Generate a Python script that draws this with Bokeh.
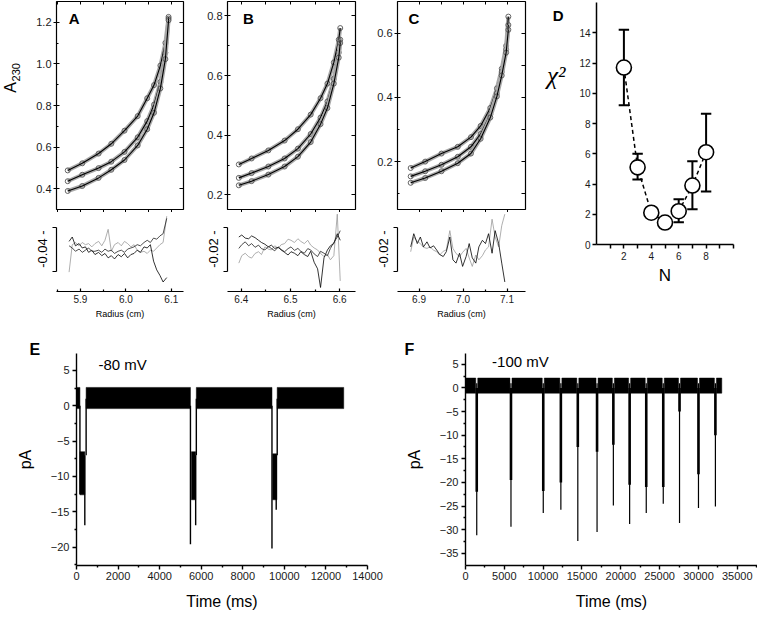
import math
from bokeh.plotting import figure
from bokeh.layouts import row, column
from bokeh.models import Range1d, FixedTicker, LinearAxis, Label, Title, PrintfTickFormatter
from bokeh.embed import file_html
from bokeh.resources import INLINE

# ---------------- data ----------------
# Panel A: radius (cm) and A230 for three scans
A_radius = [5.872, 5.904, 5.940, 5.968, 5.997, 6.026, 6.047, 6.062, 6.076, 6.087, 6.094]
A_abs_1 = [0.488, 0.522, 0.569, 0.616, 0.679, 0.749, 0.835, 0.898, 0.992, 1.101, 1.226]
A_abs_2 = [0.436, 0.467, 0.499, 0.530, 0.577, 0.647, 0.725, 0.804, 0.913, 1.054, 1.218]
A_abs_3 = [0.389, 0.413, 0.452, 0.491, 0.538, 0.608, 0.686, 0.765, 0.882, 1.023, 1.210]
A_res_radius = [5.875, 5.882, 5.889, 5.897, 5.904, 5.911, 5.918, 5.925, 5.932, 5.940, 5.947,
                5.954, 5.961, 5.968, 5.975, 5.983, 5.990, 5.997, 6.004, 6.011, 6.018, 6.025,
                6.032, 6.040, 6.047, 6.054, 6.061, 6.068, 6.075, 6.082, 6.090]
A_res_1 = [0.007, 0.011, 0.003, 0.005, 0.001, 0.002, -0.003, -0.001, -0.005, -0.003, -0.006,
           -0.004, -0.008, -0.006, -0.009, -0.005, -0.007, -0.004, -0.008, -0.005, -0.004, -0.001,
           -0.003, 0.002, 0.001, 0.004, -0.011, -0.019, -0.024, -0.030, -0.026]
A_res_2 = [0.003, 0.001, -0.002, 0.000, -0.003, -0.001, 0.001, -0.002, -0.002, -0.001, -0.003,
           0.000, -0.002, -0.001, -0.004, -0.002, -0.001, -0.003, 0.000, 0.001, 0.002, 0.004,
           0.003, 0.006, 0.008, 0.006, 0.010, 0.009, 0.012, 0.014, 0.028]
A_res_3 = [-0.021, 0.004, 0.006, 0.003, 0.006, 0.004, 0.005, 0.002, 0.005, 0.007, 0.003,
           0.008, 0.018, -0.002, 0.004, 0.006, 0.003, 0.007, 0.005, 0.002, 0.004, -0.001,
           -0.003, -0.002, -0.004, -0.001, -0.002, 0.001, 0.004, 0.006, 0.030]

# Panel B
B_radius = [6.395, 6.421, 6.455, 6.488, 6.515, 6.541, 6.561, 6.575, 6.588, 6.598, 6.601]
B_abs_1 = [0.302, 0.322, 0.349, 0.382, 0.420, 0.469, 0.524, 0.573, 0.644, 0.720, 0.759]
B_abs_2 = [0.257, 0.273, 0.295, 0.322, 0.355, 0.404, 0.459, 0.513, 0.589, 0.677, 0.720]
B_abs_3 = [0.232, 0.246, 0.268, 0.295, 0.328, 0.377, 0.437, 0.491, 0.573, 0.660, 0.709]
B_res_radius = [6.395, 6.401, 6.408, 6.415, 6.421, 6.428, 6.435, 6.441, 6.448, 6.455, 6.461,
                6.468, 6.475, 6.481, 6.488, 6.495, 6.501, 6.508, 6.515, 6.521, 6.528, 6.535,
                6.541, 6.548, 6.555, 6.561, 6.568, 6.575, 6.581, 6.588, 6.595, 6.601]
B_res_1 = [0.0055, 0.0064, 0.0050, 0.0047, 0.0060, 0.0052, 0.0040, 0.0030, 0.0022, 0.0010, 0.0018,
           0.0003, 0.0008, -0.0004, -0.0015, -0.0027, -0.0012, -0.0019, -0.0030, -0.0012, -0.0025,
           -0.0034, -0.0010, -0.0060, -0.0090, -0.0175, -0.0040, -0.0004, 0.0015, 0.0025, 0.0070, 0.0040]
B_res_2 = [0.0003, 0.0020, 0.0033, 0.0015, 0.0025, 0.0008, 0.0018, 0.0002, -0.0004, 0.0012, 0.0003,
           -0.0008, 0.0010, -0.0002, -0.0012, 0.0002, 0.0010, -0.0006, 0.0003, -0.0010, -0.0019,
           0.0002, -0.0004, -0.0022, -0.0034, -0.0010, -0.0019, -0.0030, 0.0003, 0.0030, 0.0055, 0.0084]
B_res_3 = [-0.0064, -0.0030, -0.0019, -0.0035, -0.0041, -0.0020, -0.0012, -0.0025, 0.0010, 0.0000,
           -0.0004, 0.0015, 0.0003, 0.0020, 0.0025, 0.0045, 0.0040, 0.0030, 0.0047, 0.0035, 0.0025,
           0.0040, 0.0018, 0.0005, -0.0004, -0.0020, -0.0034, -0.0025, -0.0049, -0.0030, 0.0159, -0.0145]

# Panel C
C_radius = [6.881, 6.914, 6.951, 6.988, 7.018, 7.040, 7.062, 7.077, 7.088, 7.098, 7.103]
C_abs_1 = [0.180, 0.200, 0.225, 0.246, 0.276, 0.311, 0.367, 0.428, 0.489, 0.560, 0.651]
C_abs_2 = [0.154, 0.170, 0.190, 0.215, 0.246, 0.286, 0.347, 0.413, 0.479, 0.549, 0.625]
C_abs_3 = [0.134, 0.149, 0.170, 0.195, 0.225, 0.271, 0.337, 0.403, 0.468, 0.539, 0.610]
C_res_radius = [6.881, 6.888, 6.896, 6.903, 6.910, 6.918, 6.925, 6.933, 6.940, 6.947, 6.955,
                6.962, 6.970, 6.977, 6.984, 6.992, 6.999, 7.007, 7.014, 7.021, 7.029, 7.036,
                7.044, 7.051, 7.058, 7.066, 7.073, 7.081, 7.088, 7.095]
C_res_1 = [0.0010, 0.0070, 0.0025, 0.0055, 0.0010, 0.0033, 0.0005, 0.0015, -0.0004, -0.0025,
           -0.0034, -0.0012, 0.0055, -0.0049, -0.0064, -0.0019, -0.0079, -0.0034, 0.0025, -0.0040,
           -0.0064, 0.0010, 0.0040, 0.0025, 0.0070, -0.0019, 0.0084, 0.0025, -0.0064, -0.0150]
C_res_2 = [-0.0012, 0.0055, 0.0035, 0.0025, 0.0008, 0.0003, 0.0010, -0.0005, -0.0012, -0.0027,
           -0.0010, -0.0004, 0.0084, 0.0003, -0.0020, -0.0034, -0.0015, 0.0003, -0.0040, -0.0079,
           -0.0027, -0.0049, -0.0030, -0.0004, 0.0010, 0.0136, 0.0055, 0.0010, 0.0107, 0.0159]

# Panel D: chi-square vs N
D_N = [2, 3, 4, 5, 6, 7, 8]
D_chi2 = [11.7, 5.1, 2.1, 1.45, 2.2, 3.9, 6.1]
D_low = [9.2, 4.3, 1.9, 1.3, 1.47, 2.33, 3.5]
D_high = [14.2, 6.0, 2.3, 1.6, 3.0, 5.5, 8.65]

# Panel E: -80 mV trace (ms, pA)
E_base_start = [0, 463, 5765, 9656]
E_base_end = [165, 5482, 9404, 12856]
E_noise_band = [-0.4, 2.6]
E_drop_t = [165, 400, 463, 5482, 5733, 5765, 9404, 9608, 9656]
E_drop_top = [0, -7, 1, 0, -7, 1, 0, -7, 1]
E_drop_bottom = [-12.5, -16.9, -7, -19.6, -16.9, -7, -20.2, -14.7, -7]
E_burst_t0 = [165, 5529, 9435]
E_burst_t1 = [400, 5733, 9640]
E_burst_low = [-12.6, -13.3, -13.3]
E_burst_high = [-6.5, -6.5, -6.8]

# Panel F: -100 mV trace (ms, pA)
F_spike_t = [1448, 5856, 10013, 12280, 14462, 16940, 19040, 21135, 23275, 25465, 27560, 30000, 32180]
F_spike_min = [-31.2, -29.4, -26.5, -25.8, -32.4, -30.5, -24.9, -28.8, -26.5, -24.5, -28.6, -25.4, -25.1]
F_spike_knee = [-22, -19.5, -21.8, -20, -12.5, -13.5, -12, -20.5, -21, -21, -5, -18.3, -10]
F_trace_end = 33000
F_noise_band = [-1.1, 2.1]

# tick values
A_yticks, A_yminor = [0.4, 0.6, 0.8, 1.0, 1.2], [0.5, 0.7, 0.9, 1.1]
A_xticks, A_xminor = [5.9, 6.0, 6.1], [5.85, 5.95, 6.05]
B_yticks, B_yminor = [0.2, 0.4, 0.6, 0.8], [0.3, 0.5, 0.7]
B_xticks, B_xminor = [6.4, 6.5, 6.6], [6.45, 6.55]
C_yticks, C_yminor = [0.2, 0.4, 0.6], [0.1, 0.3, 0.5]
C_xticks, C_xminor = [6.9, 7.0, 7.1], [6.95, 7.05]
D_yticks = [0, 2, 4, 6, 8, 10, 12, 14]
D_xticks, D_xminor = [2, 4, 6, 8], [1, 3, 5, 7, 9, 10]
E_yticks, E_yminor = [-20, -15, -10, -5, 0, 5], [-22.5, -17.5, -12.5, -7.5, -2.5, 2.5]
E_xticks = [0, 2000, 4000, 6000, 8000, 10000, 12000, 14000]
E_xminor = [1000, 3000, 5000, 7000, 9000, 11000, 13000]
F_yticks = [-35, -30, -25, -20, -15, -10, -5, 0, 5]
F_yminor = [-32.5, -27.5, -22.5, -17.5, -12.5, -7.5, -2.5, 2.5]
F_xticks = [0, 5000, 10000, 15000, 20000, 25000, 30000, 35000]
F_xminor = [2500, 7500, 12500, 17500, 22500, 27500, 32500, 37500]

# ---------------- layout helpers ----------------
SX = 757 / 773
SY = 614 / 630
FONT = "Liberation Sans"


def X(v):
    return int(round(v * SX))


def Y(v):
    return int(round(v * SY))


def base_fig(box, frame, xr, yr):
    bx0, by0, bx1, by1 = box
    fx0, fy0, fx1, fy1 = frame
    p = figure(width=X(bx1) - X(bx0), height=Y(by1) - Y(by0),
               x_range=Range1d(*xr), y_range=Range1d(*yr),
               x_axis_location=None, y_axis_location=None, title=None,
               toolbar_location=None, output_backend="svg",
               min_border_left=X(fx0) - X(bx0), min_border_right=X(bx1) - X(fx1),
               min_border_top=Y(fy0) - Y(by0), min_border_bottom=Y(by1) - Y(fy1))
    p.outline_line_color = None
    p.grid.visible = False
    p.background_fill_color = "white"
    p.border_fill_color = "white"
    p._frame = frame
    p._xr = xr
    p._yr = yr
    return p


def strip_fig(box):
    # a plain text strip whose frame fills the whole box
    return base_fig(box, box, (0, 1), (0, 1))


def add_label(p, rx, ry, text, size, bold=False, angle=0.0, align="center",
              font=FONT, style=None):
    fx0, fy0, fx1, fy1 = p._frame
    x0, x1 = p._xr
    y0, y1 = p._yr
    x = x0 + (rx - fx0) / (fx1 - fx0) * (x1 - x0)
    y = y1 - (ry - fy0) / (fy1 - fy0) * (y1 - y0)
    fs = style if style else ("bold" if bold else "normal")
    p.add_layout(Label(x=x, y=y, text=text, text_font=font, text_font_size=f"{size}px",
                       text_font_style=fs, text_align=align, text_baseline="middle",
                       angle=angle, text_color="black"))


def mk_axis(ticks, minor=(), size="10px", t_in=0, t_out=4, m_in=0, m_out=2,
            lw=1.0, line=True, standoff=3, label=None, label_size="12px", label_standoff=5,
            bounds=None, fmt=None):
    ax = LinearAxis(ticker=FixedTicker(ticks=list(ticks), minor_ticks=list(minor)))
    if fmt:
        ax.formatter = PrintfTickFormatter(format=fmt)
    ax.major_tick_in = t_in
    ax.major_tick_out = t_out
    ax.minor_tick_in = m_in
    ax.minor_tick_out = m_out
    ax.major_tick_line_color = "black"
    ax.minor_tick_line_color = "black"
    ax.major_tick_line_width = lw
    ax.minor_tick_line_width = lw
    ax.axis_line_color = "black" if line else None
    ax.axis_line_width = lw
    ax.major_label_text_font = FONT
    ax.major_label_text_color = "#1a1a1a"
    ax.major_label_text_font_size = size
    ax.major_label_standoff = standoff
    if label is not None:
        ax.axis_label = label
        ax.axis_label_text_font = FONT
        ax.axis_label_text_font_size = label_size
        ax.axis_label_text_font_style = "normal"
        ax.axis_label_text_color = "black"
        ax.axis_label_standoff = label_standoff
    if bounds is not None:
        ax.bounds = bounds
    return ax


def tick_only_axis(positions, t_in, t_out, lw=1.0):
    # axis that shows only (minor) tick marks, no labels and no line
    ax = LinearAxis(ticker=FixedTicker(ticks=[], minor_ticks=list(positions)))
    ax.minor_tick_in = t_in
    ax.minor_tick_out = t_out
    ax.minor_tick_line_color = "black"
    ax.minor_tick_line_width = lw
    ax.major_tick_in = 0
    ax.major_tick_out = 0
    ax.axis_line_color = None
    ax.major_label_standoff = 0
    return ax


def top_main(col, frame_x, xr, yr, yt, ymt, xt, xmt, radius, curves):
    p = base_fig((col[0], 0, col[1], 218), (frame_x[0], 1, frame_x[1], 214), xr, yr)
    p.outline_line_color = "black"
    p.outline_line_width = 1.2
    p.add_layout(mk_axis(yt, ymt, size="11px", t_in=3, t_out=3, m_in=2, m_out=0,
                         line=False, standoff=2, fmt="%.1f"), "left")
    p.add_layout(tick_only_axis(list(yt) + list(ymt), 4, 0), "right")
    p.add_layout(tick_only_axis(list(xt) + list(xmt), 3, 0), "above")
    p.add_layout(tick_only_axis(list(xt) + list(xmt), 0, 3), "below")
    for vals in curves:
        p.line(radius, vals, line_color="#a9a9a9", line_width=4)
        p.scatter(radius, vals, marker="circle", size=5, fill_color=None,
                  line_color="#555555", line_width=0.9)
        p.line(radius, vals, line_color="black", line_width=1.1)
    return p


def top_res(col, frame_x, xr, bar, bar_text, xt, xmt, radius, traces):
    top_v = (255.5 - 218) / 45 * 2 * bar
    bot_v = -(299 - 255.5) / 45 * 2 * bar
    p = base_fig((col[0], 218, col[1], 333), (frame_x[0], 218, frame_x[1], 299), xr, (bot_v, top_v))
    bar_ax = LinearAxis(ticker=FixedTicker(ticks=[0], minor_ticks=[-bar, bar]))
    bar_ax.bounds = (-bar, bar)
    bar_ax.axis_line_width = 1.2
    bar_ax.major_tick_in = 0
    bar_ax.major_tick_out = 0
    bar_ax.minor_tick_in = 0
    bar_ax.minor_tick_out = 4
    bar_ax.minor_tick_line_width = 1.2
    bar_ax.major_label_overrides = {0: bar_text}
    bar_ax.major_label_orientation = "vertical"
    bar_ax.major_label_text_font = FONT
    bar_ax.major_label_text_font_size = "13px"
    bar_ax.major_label_text_color = "black"
    bar_ax.major_label_standoff = 2
    p.add_layout(bar_ax, "left")
    p.add_layout(mk_axis(xt, xmt, size="10px", t_in=3, t_out=0, m_in=2, m_out=0,
                         lw=1.2, standoff=3, label="Radius (cm)", label_size="9px",
                         label_standoff=3, fmt="%.1f"), "below")
    for vals, c in traces:
        p.line(radius, vals, line_color=c, line_width=0.8)
    return p


# ---------------- top row ----------------
A_strip = strip_fig((0, 0, 24, 333))
add_label(A_strip, 10, 117, "A", 16, angle=math.pi / 2)
add_label(A_strip, 15.5, 96, "230", 11, angle=math.pi / 2)

A_main = top_main((24, 200), (57, 187), (5.8473, 6.1269), (0.30, 1.30), A_yticks, A_yminor,
                  A_xticks, A_xminor, A_radius, [A_abs_1, A_abs_2, A_abs_3])
add_label(A_main, 75, 18.3, "A", 15, bold=True)
A_res = top_res((24, 200), (57, 187), (5.8473, 6.1269), 0.02, "-0.04 -", A_xticks, A_xminor,
                A_res_radius, [(A_res_3, "#9a9a9a"), (A_res_1, "black"), (A_res_2, "#222222")])

B_main = top_main((200, 378), (232, 362), (6.372, 6.632), (0.151, 0.848), B_yticks, B_yminor,
                  B_xticks, B_xminor, B_radius, [B_abs_1, B_abs_2, B_abs_3])
add_label(B_main, 253.3, 18.3, "B", 15, bold=True)
B_res = top_res((200, 378), (232, 362), (6.372, 6.632), 0.01, "-0.02 -", B_xticks, B_xminor,
                B_res_radius, [(B_res_3, "#9a9a9a"), (B_res_1, "black"), (B_res_2, "#222222")])

C_main = top_main((378, 555), (405, 536), (6.851, 7.142), (0.051, 0.698), C_yticks, C_yminor,
                  C_xticks, C_xminor, C_radius, [C_abs_1, C_abs_2, C_abs_3])
add_label(C_main, 421.7, 18.3, "C", 15, bold=True)
C_res = top_res((378, 555), (405, 536), (6.851, 7.142), 0.01, "-0.02 -", C_xticks, C_xminor,
                C_res_radius, [(C_res_2, "#9a9a9a"), (C_res_1, "black")])

D_strip = strip_fig((555, 0, 588, 333))
add_label(D_strip, 569, 18, "D", 15, bold=True)
add_label(D_strip, 567, 100, "χ²", 25, font="Liberation Serif", style="italic")

pD = base_fig((588, 0, 773, 333), (608, 1.6, 748, 250.7), (0, 10), (0, 16))
pD.add_layout(mk_axis(D_yticks, [], size="10px", t_out=4, m_out=0, lw=1.5, standoff=2), "left")
pD.add_layout(mk_axis(D_xticks, D_xminor, size="10px", t_out=4, m_out=4, lw=1.5,
                      standoff=3, label="N", label_size="17px", label_standoff=3), "below")
pD.line(D_N, D_chi2, line_color="black", line_width=1.5, line_dash="4 3")
pD.segment(x0=D_N, y0=D_low, x1=D_N, y1=D_high, line_color="black", line_width=2)
cap = 0.38
pD.segment(x0=[n - cap for n in D_N], y0=D_high, x1=[n + cap for n in D_N], y1=D_high,
           line_color="black", line_width=2)
pD.segment(x0=[n - cap for n in D_N], y0=D_low, x1=[n + cap for n in D_N], y1=D_low,
           line_color="black", line_width=2)
pD.scatter(D_N, D_chi2, marker="circle", size=15, fill_color="white", line_color="black",
           line_width=1.6)

# ---------------- bottom row ----------------
pE = base_fig((0, 333, 395, 630), (77.5, 360, 375, 580), (0, 14000), (-22.6, 7.4))
pE.add_layout(mk_axis(E_yticks, E_yminor, size="11px", t_out=4, m_out=2, lw=1.4,
                      standoff=3, label="pA", label_size="16px", label_standoff=14), "left")
pE.add_layout(mk_axis(E_xticks, E_xminor, size="11px", t_out=4, m_out=2, lw=1.4,
                      standoff=2, label="Time (ms)", label_size="16px", label_standoff=10), "below")
pE.title = Title(text="E", align="left", offset=X(29.5) - X(77.5), standoff=-8,
                 text_font=FONT, text_font_size="16px", text_font_style="bold",
                 text_color="black")
pE.quad(left=E_base_start, right=E_base_end, bottom=E_noise_band[0], top=E_noise_band[1],
        fill_color="black", line_color="black", line_width=0.5)
pE.quad(left=E_burst_t0, right=E_burst_t1, bottom=E_burst_low, top=E_burst_high,
        fill_color="black", line_color="black", line_width=0.5)
pE.segment(x0=E_drop_t, y0=E_drop_top, x1=E_drop_t, y1=E_drop_bottom, line_color="black",
           line_width=1.4)
add_label(pE, 100, 371.7, "-80 mV", 15, align="left")

pF = base_fig((395, 333, 773, 630), (474.5, 361.7, 773, 581), (0, 37600), (-37.6, 7.3))
pF.add_layout(mk_axis(F_yticks, F_yminor, size="11px", t_out=4, m_out=2, lw=1.4,
                      standoff=3, label="pA", label_size="16px", label_standoff=14), "left")
pF.add_layout(mk_axis(F_xticks, F_xminor, size="11px", t_out=4, m_out=2, lw=1.4,
                      standoff=2, label="Time (ms)", label_size="16px", label_standoff=10), "below")
pF.title = Title(text="F", align="left", offset=X(412.5) - X(474.5), standoff=-8,
                 text_font=FONT, text_font_size="16px", text_font_style="bold",
                 text_color="black")
gap = 130
F_seg_start = [0] + [t + gap for t in F_spike_t]
F_seg_end = [t - gap for t in F_spike_t] + [F_trace_end]
pF.quad(left=F_seg_start, right=F_seg_end, bottom=F_noise_band[0], top=F_noise_band[1],
        fill_color="black", line_color="black", line_width=0.5)
pF.segment(x0=F_spike_t, y0=[1] * len(F_spike_t), x1=F_spike_t, y1=F_spike_min,
           line_color="black", line_width=1.2)
pF.segment(x0=F_spike_t, y0=[0] * len(F_spike_t), x1=F_spike_t, y1=F_spike_knee,
           line_color="black", line_width=2.6)
add_label(pF, 501.7, 370, "-100 mV", 15, align="left")

top = row(A_strip, column(A_main, A_res), column(B_main, B_res), column(C_main, C_res),
          D_strip, pD)
bottom = row(pE, pF)
layout = column(top, bottom)

open("out.html", "w").write(file_html(layout, INLINE))
